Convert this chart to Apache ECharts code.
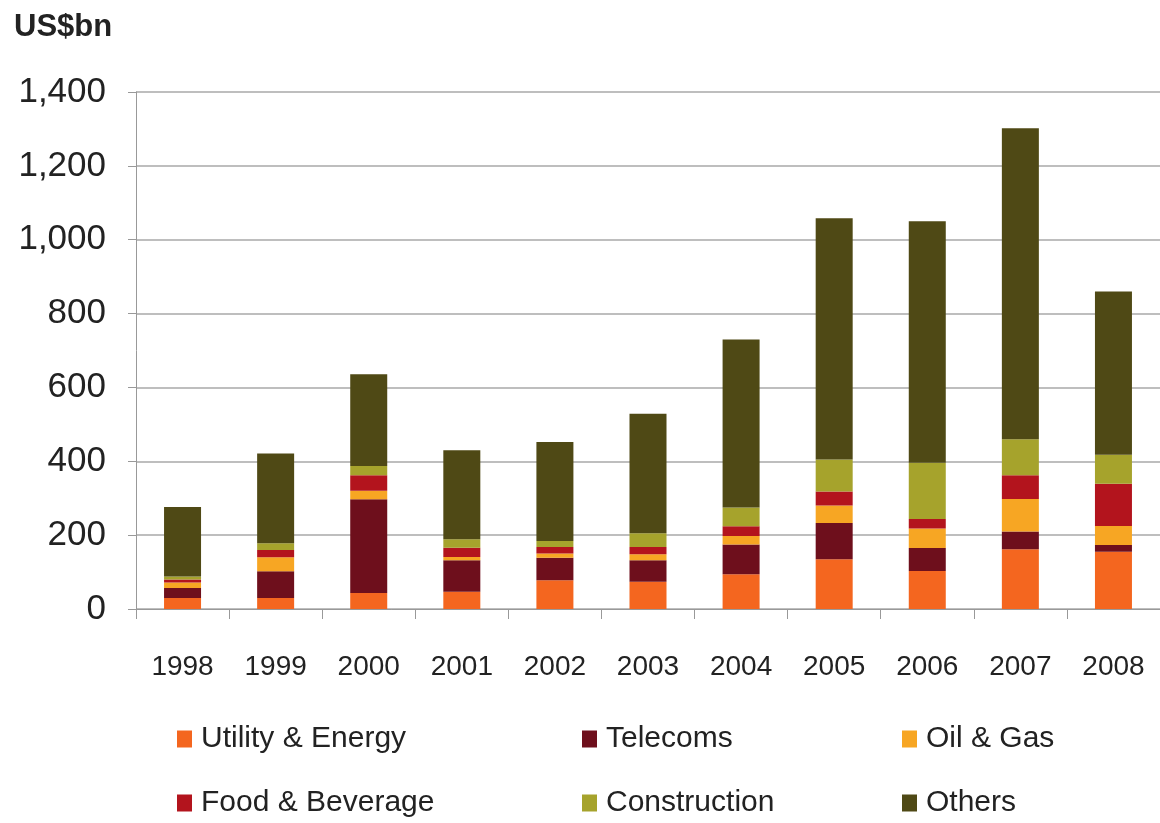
<!DOCTYPE html>
<html>
<head>
<meta charset="utf-8">
<script src="https://cdn.jsdelivr.net/npm/echarts@6/dist/echarts.min.js"></script>
<style>
  html, body { margin: 0; padding: 0; background: #fff; }
  #chart { width: 1160px; height: 823px; }
</style>
</head>
<body>
<div id="chart"></div>
<script>
// Sector breakdown by year, US$bn (stacked)
const years = ['1998', '1999', '2000', '2001', '2002', '2003', '2004', '2005', '2006', '2007', '2008'];
const utilityEnergy = [30, 30, 43, 47, 78, 74, 94, 135, 103, 162, 155];
const telecoms      = [27, 72, 254, 85, 61, 58, 81, 98, 62, 48, 18];
const oilGas        = [15, 38, 23, 9, 11, 16, 23, 47, 53, 88, 52];
const foodBeverage  = [8, 20, 42, 25, 18, 20, 26, 38, 26, 64, 114];
const construction  = [8, 18, 25, 23, 16, 37, 51, 87, 152, 98, 79];
const others        = [188, 243, 249, 241, 268, 324, 455, 653, 654, 842, 442];
const yTicks = [0, 200, 400, 600, 800, 1000, 1200, 1400];

const seriesDefs = [
  { name: 'Utility & Energy', data: utilityEnergy, color: '#f4661f' },
  { name: 'Telecoms', data: telecoms, color: '#6e0f1c' },
  { name: 'Oil & Gas', data: oilGas, color: '#f7a623' },
  { name: 'Food & Beverage', data: foodBeverage, color: '#b3141d' },
  { name: 'Construction', data: construction, color: '#a6a32c' },
  { name: 'Others', data: others, color: '#4f4915' }
];

const FONT = 'Liberation Sans, Arial, sans-serif';
const legendText = { fontFamily: FONT, fontSize: 30, color: '#222', padding: [0, 0, 0, 4] };
function legendColumn(names, left) {
  return {
    orient: 'vertical', left: left, top: 724, itemGap: 34, padding: 0,
    icon: 'rect', itemWidth: 15, itemHeight: 17,
    textStyle: legendText, data: names, selectedMode: false
  };
}

const chart = echarts.init(document.getElementById('chart'));
chart.setOption({
  animation: false,
  title: {
    text: 'US$bn', left: 14, top: 12, padding: 0,
    textStyle: { fontFamily: FONT, fontSize: 31, fontWeight: 'bold', color: '#222' }
  },
  legend: [
    legendColumn(['Utility & Energy', 'Food & Beverage'], 177),
    legendColumn(['Telecoms', 'Construction'], 582),
    legendColumn(['Oil & Gas', 'Others'], 902)
  ],
  grid: { left: 136, right: 0, top: 92, bottom: 214, containLabel: false },
  xAxis: {
    type: 'category', data: years,
    axisLine: { show: true, lineStyle: { color: '#999', width: 1 } },
    axisTick: { show: true, alignWithLabel: false, length: 10, lineStyle: { color: '#999' } },
    axisLabel: { margin: 44, fontFamily: FONT, fontSize: 28, color: '#222' }
  },
  yAxis: {
    type: 'value', min: yTicks[0], max: yTicks[yTicks.length - 1], interval: 200,
    axisLine: { show: true, lineStyle: { color: '#999', width: 1 } },
    axisTick: { show: true, length: 8, lineStyle: { color: '#999' } },
    splitLine: { show: true, lineStyle: { color: '#a8a8a8', width: 1.5 } },
    axisLabel: {
      margin: 30, fontFamily: FONT, fontSize: 35, color: '#222',
      formatter: v => v.toLocaleString('en-US')
    }
  },
  series: seriesDefs.map(s => ({
    name: s.name, type: 'bar', stack: 'total', data: s.data,
    barWidth: 37, itemStyle: { color: s.color }
  }))
});
</script>
</body>
</html>
